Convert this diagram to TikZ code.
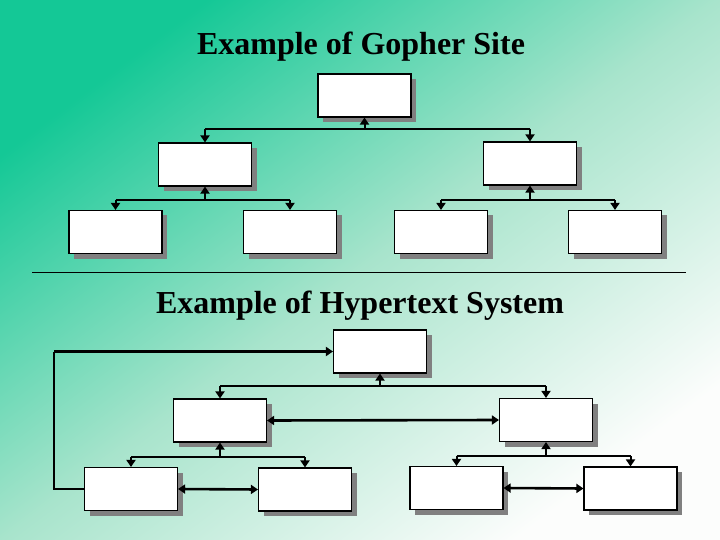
\documentclass[tikz,border=0pt]{standalone}
\usepackage{fontspec}
\setmainfont{Liberation Serif}
\usetikzlibrary{shadows,arrows.meta}
\definecolor{deepgreen}{RGB}{20,200,150}
\definecolor{midgreen}{RGB}{168,228,204}
\definecolor{palegreen}{RGB}{252,253,252}

\begin{document}
\begin{tikzpicture}[x=1pt, y=-1pt,
  box/.style={rectangle, draw, line width=1.1pt, fill=white, inner sep=0pt,
    minimum width=93pt, minimum height=43pt,
    drop shadow={shadow xshift=5pt, shadow yshift=-5pt, fill=black!50, opacity=1}},
  link/.style={line width=2pt, -{Triangle[length=7pt,width=9pt]}},
  bar/.style={line width=1.5pt},
  twoway/.style={line width=2.6pt, {Triangle[length=7pt,width=9pt]}-{Triangle[length=7pt,width=9pt]}},
  title/.style={font=\bfseries\fontsize{32}{38}\selectfont, anchor=base}]
%
% --- Background ---
\useasboundingbox (0,0) rectangle (720,540);
\shade[top color=deepgreen, bottom color=palegreen, middle color=midgreen, shading angle=37]
  (0,0) rectangle (720,540);
%
% --- Gopher site ---
\node[title] (t1) at (361,55) {Example of Gopher Site};
\node[box] (g0) at (364.5,95.5) {};
\node[box] (g1) at (205,164.5) {};
\node[box] (g2) at (530,163.5) {};
\node[box] (g3) at (115.5,232) {};
\node[box] (g4) at (290,232) {};
\node[box] (g5) at (441,232) {};
\node[box] (g6) at (615,232) {};
\coordinate (j0) at (364.5,129);
\coordinate (j1) at (205,200);
\coordinate (j2) at (530,200);
%
\draw[bar] (g1.north |- j0) -- (g2.north |- j0);
\draw[link] (j0) -- (g0.south);
\draw[link] (g1.north |- j0) -- (g1.north);
\draw[link] (g2.north |- j0) -- (g2.north);
\draw[bar] (g3.north |- j1) -- (g4.north |- j1);
\draw[link] (j1) -- (g1.south);
\draw[link] (g3.north |- j1) -- (g3.north);
\draw[link] (g4.north |- j1) -- (g4.north);
\draw[bar] (g5.north |- j2) -- (g6.north |- j2);
\draw[link] (j2) -- (g2.south);
\draw[link] (g5.north |- j2) -- (g5.north);
\draw[link] (g6.north |- j2) -- (g6.north);
%
% --- Separator ---
\draw[line width=1pt] (32,272) -- (686,272);
%
% --- Hypertext system ---
\node[title] (t2) at (360,313) {Example of Hypertext System};
\node[box] (h0) at (380,351.5) {};
\node[box] (h1) at (220,420.5) {};
\node[box] (h2) at (546,420) {};
\node[box] (h3) at (131,489) {};
\node[box] (h4) at (305,489.5) {};
\node[box] (h5) at (456.5,488) {};
\node[box] (h6) at (630.5,488.5) {};
\coordinate (k0) at (380,386);
\coordinate (k1) at (220,457);
\coordinate (k2) at (546,456);
\coordinate (c1) at (54,489);
\coordinate (c2) at (54,351.5);
%
\draw[bar] (h1.north |- k0) -- (h2.north |- k0);
\draw[link] (k0) -- (h0.south);
\draw[link] (h1.north |- k0) -- (h1.north);
\draw[link] (h2.north |- k0) -- (h2.north);
\draw[bar] (h3.north |- k1) -- (h4.north |- k1);
\draw[link] (k1) -- (h1.south);
\draw[link] (h3.north |- k1) -- (h3.north);
\draw[link] (h4.north |- k1) -- (h4.north);
\draw[bar] (h5.north |- k2) -- (h6.north |- k2);
\draw[link] (k2) -- (h2.south);
\draw[link] (h5.north |- k2) -- (h5.north);
\draw[link] (h6.north |- k2) -- (h6.north);
%
\draw[twoway] (h1.east) -- (h2.west);
\draw[twoway] (h3.east) -- (h4.west);
\draw[twoway] (h5.east) -- (h6.west);
\draw[line width=1.1pt] (h3.west) -- (c1) -- (c2);
\draw[link, line width=2.4pt] (c2) -- (h0.west);
%
\end{tikzpicture}
\end{document}
